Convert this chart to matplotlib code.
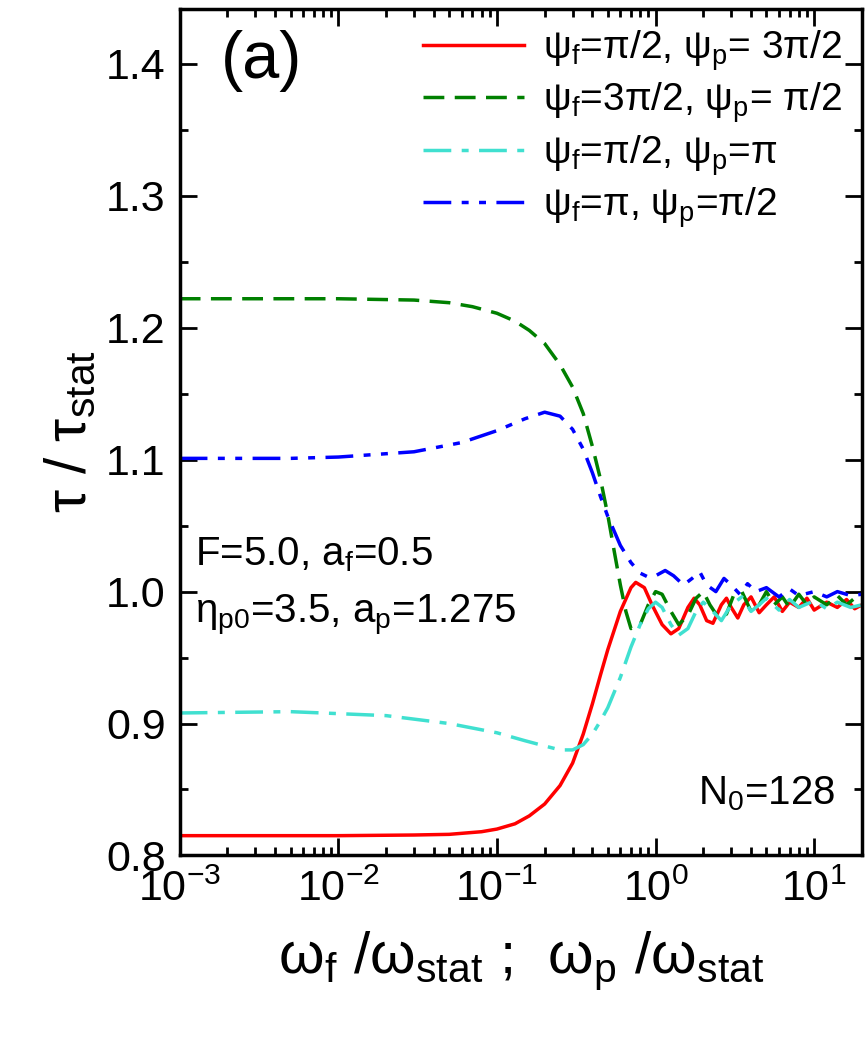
import matplotlib
matplotlib.use('Agg')
import matplotlib.pyplot as plt
import numpy as np

plt.rcParams['font.family'] = 'Liberation Sans'

# ── DATA ────────────────────────────────────────────────────
red_x = [1e-3, 0.01, 0.03, 0.05, 0.08, 0.1, 0.13, 0.16, 0.2, 0.25, 0.3, 0.35, 0.4, 0.45, 0.5, 0.6, 0.7, 0.75,
         0.85, 0.95, 1.1, 1.25, 1.4, 1.6, 1.75, 1.9, 2.1, 2.3, 2.6, 2.8, 3.0, 3.3, 3.6, 4.0, 4.5, 5.0, 5.6,
         6.3, 7.0, 8.0, 9.0, 10, 12, 14, 16, 18, 20]
red_y = [0.815, 0.815, 0.8155, 0.816, 0.818, 0.820, 0.824, 0.830, 0.839, 0.853, 0.870, 0.892, 0.915, 0.937,
         0.956, 0.985, 1.003, 1.007, 1.003, 0.99, 0.975, 0.968, 0.972, 0.988, 0.995, 0.99, 0.978, 0.976, 0.99,
         0.995, 0.988, 0.98, 0.99, 0.996, 0.984, 0.99, 0.996, 0.985, 0.992, 0.988, 0.995, 0.986, 0.992, 0.988,
         0.994, 0.987, 0.99]

green_x = [1e-3, 0.01, 0.03, 0.05, 0.07, 0.1, 0.13, 0.16, 0.2, 0.25, 0.3, 0.35, 0.4, 0.45, 0.5, 0.55, 0.6,
           0.65, 0.7, 0.8, 0.9, 1.0, 1.1, 1.25, 1.4, 1.6, 1.8, 2.0, 2.2, 2.5, 2.8, 3.1, 3.5, 4.0, 4.5, 5.0,
           5.6, 6.3, 7.0, 8.0, 9.0, 10, 12, 14, 16, 18, 20]
green_y = [1.222, 1.222, 1.221, 1.219, 1.216, 1.211, 1.205, 1.198, 1.188, 1.172, 1.155, 1.135, 1.11, 1.085,
           1.058, 1.03, 1.005, 0.985, 0.972, 0.975, 0.99, 1.0, 0.998, 0.985, 0.975, 0.982, 0.995, 1.0, 0.99,
           0.98, 0.983, 0.997, 1.0, 0.985, 0.99, 1.0, 0.99, 0.996, 0.988, 0.998, 0.99, 0.996, 0.99, 0.997,
           0.99, 0.995, 0.992]

cyan_x = [1e-3, 0.005, 0.02, 0.05, 0.1, 0.15, 0.2, 0.25, 0.3, 0.35, 0.4, 0.45, 0.5, 0.6, 0.7, 0.8, 0.9, 1.0,
          1.1, 1.25, 1.4, 1.6, 1.8, 2.0, 2.3, 2.6, 3.0, 3.5, 4.0, 4.5, 5.0, 6.0, 7.0, 8.0, 10, 12, 14, 17, 20]
cyan_y = [0.908, 0.909, 0.906, 0.9, 0.893, 0.887, 0.883, 0.880, 0.880, 0.884, 0.892, 0.902, 0.912, 0.935,
          0.958, 0.975, 0.987, 0.992, 0.988, 0.975, 0.967, 0.972, 0.985, 0.992, 0.985, 0.978, 0.99, 0.996,
          0.985, 0.99, 0.995, 0.986, 0.994, 0.988, 0.993, 0.987, 0.992, 0.988, 0.99]

blue_x = [1e-3, 0.005, 0.01, 0.03, 0.06, 0.1, 0.15, 0.2, 0.25, 0.3, 0.35, 0.4, 0.45, 0.5, 0.6, 0.7, 0.8, 0.9,
          1.0, 1.15, 1.3, 1.5, 1.7, 1.9, 2.1, 2.4, 2.7, 3.0, 3.4, 3.8, 4.3, 5.0, 6.0, 7.0, 8.0, 10, 12, 14,
          17, 20]
blue_y = [1.101, 1.101, 1.102, 1.106, 1.113, 1.122, 1.131, 1.136, 1.133, 1.123, 1.108, 1.09, 1.072, 1.057,
          1.035, 1.022, 1.014, 1.011, 1.012, 1.016, 1.012, 1.005, 1.01, 1.015, 1.005, 1.0, 1.01, 1.005, 0.998,
          1.006, 1.0, 1.003, 0.996, 1.002, 0.997, 1.0, 0.996, 1.0, 0.997, 0.998]

xticks = [1e-3, 1e-2, 1e-1, 1e0, 1e1]
xticklabels = [r'$\mathregular{10^{-3}}$', r'$\mathregular{10^{-2}}$', r'$\mathregular{10^{-1}}$',
               r'$\mathregular{10^{0}}$', r'$\mathregular{10^{1}}$']
yticks = [0.8, 0.9, 1.0, 1.1, 1.2, 1.3, 1.4]

# ── PLOT ─────────────────────────────────────────────────────
fig = plt.figure(figsize=(8.68, 10.64), dpi=100)
ax = fig.add_axes([0.207, 0.196, 0.786, 0.796])

ax.plot(red_x, red_y, color='#ff0000', lw=2.5, ls='-',
        label=r'$\mathregular{\psi_f}$=$\mathregular{\pi}$/2, $\mathregular{\psi_p}$= 3$\mathregular{\pi}$/2')
ax.plot(green_x, green_y, color='#008000', lw=2.5, ls=(0, (6, 3)),
        label=r'$\mathregular{\psi_f}$=3$\mathregular{\pi}$/2, $\mathregular{\psi_p}$= $\mathregular{\pi}$/2')
ax.plot(cyan_x, cyan_y, color='#40e0d0', lw=2.5, ls=(0, (8, 3, 2, 3)),
        label=r'$\mathregular{\psi_f}$=$\mathregular{\pi}$/2, $\mathregular{\psi_p}$=$\mathregular{\pi}$')
ax.plot(blue_x, blue_y, color='#0000ff', lw=2.5, ls=(0, (8, 3, 2, 3, 2, 3)),
        label=r'$\mathregular{\psi_f}$=$\mathregular{\pi}$, $\mathregular{\psi_p}$=$\mathregular{\pi}$/2')

ax.set_xscale('log')
ax.set_xlim(1e-3, 20)
ax.set_ylim(0.8, 1.442)
ax.set_xticks(xticks)
ax.set_xticklabels(xticklabels)
ax.set_yticks(yticks)
ax.set_yticklabels([f'{v:.1f}' for v in yticks])
ax.yaxis.set_minor_locator(matplotlib.ticker.MultipleLocator(0.05))
ax.tick_params(which='both', direction='in', top=True, right=True, labelsize=31, width=2)
ax.tick_params(which='major', length=12, pad=10)
ax.tick_params(which='minor', length=6)
for s in ax.spines.values():
    s.set_linewidth(2.5)

ax.set_ylabel(r'$\mathregular{\tau}$ / $\mathregular{\tau_{stat}}$', fontsize=42, labelpad=6)
ax.set_xlabel(r'$\mathregular{\omega_f}$ /$\mathregular{\omega_{stat}}$ ;  $\mathregular{\omega_p}$ /$\mathregular{\omega_{stat}}$',
              fontsize=42, labelpad=14)

ax.text(0.06, 0.975, '(a)', transform=ax.transAxes, fontsize=48, va='top')
ax.text(0.022, 0.342, r'F=5.0, a$\mathregular{_f}$=0.5', transform=ax.transAxes, fontsize=29)
ax.text(0.022, 0.275, r'$\mathregular{\eta_{p0}}$=3.5, a$\mathregular{_p}$=1.275', transform=ax.transAxes, fontsize=29)
ax.text(0.96, 0.06, r'N$\mathregular{_0}$=128', transform=ax.transAxes, fontsize=29, ha='right')

ax.legend(loc='upper right', fontsize=28, frameon=False, handlelength=2.6, handletextpad=0.5,
          labelspacing=0.2, borderaxespad=0.1)

fig.savefig('out.png', dpi=100)
